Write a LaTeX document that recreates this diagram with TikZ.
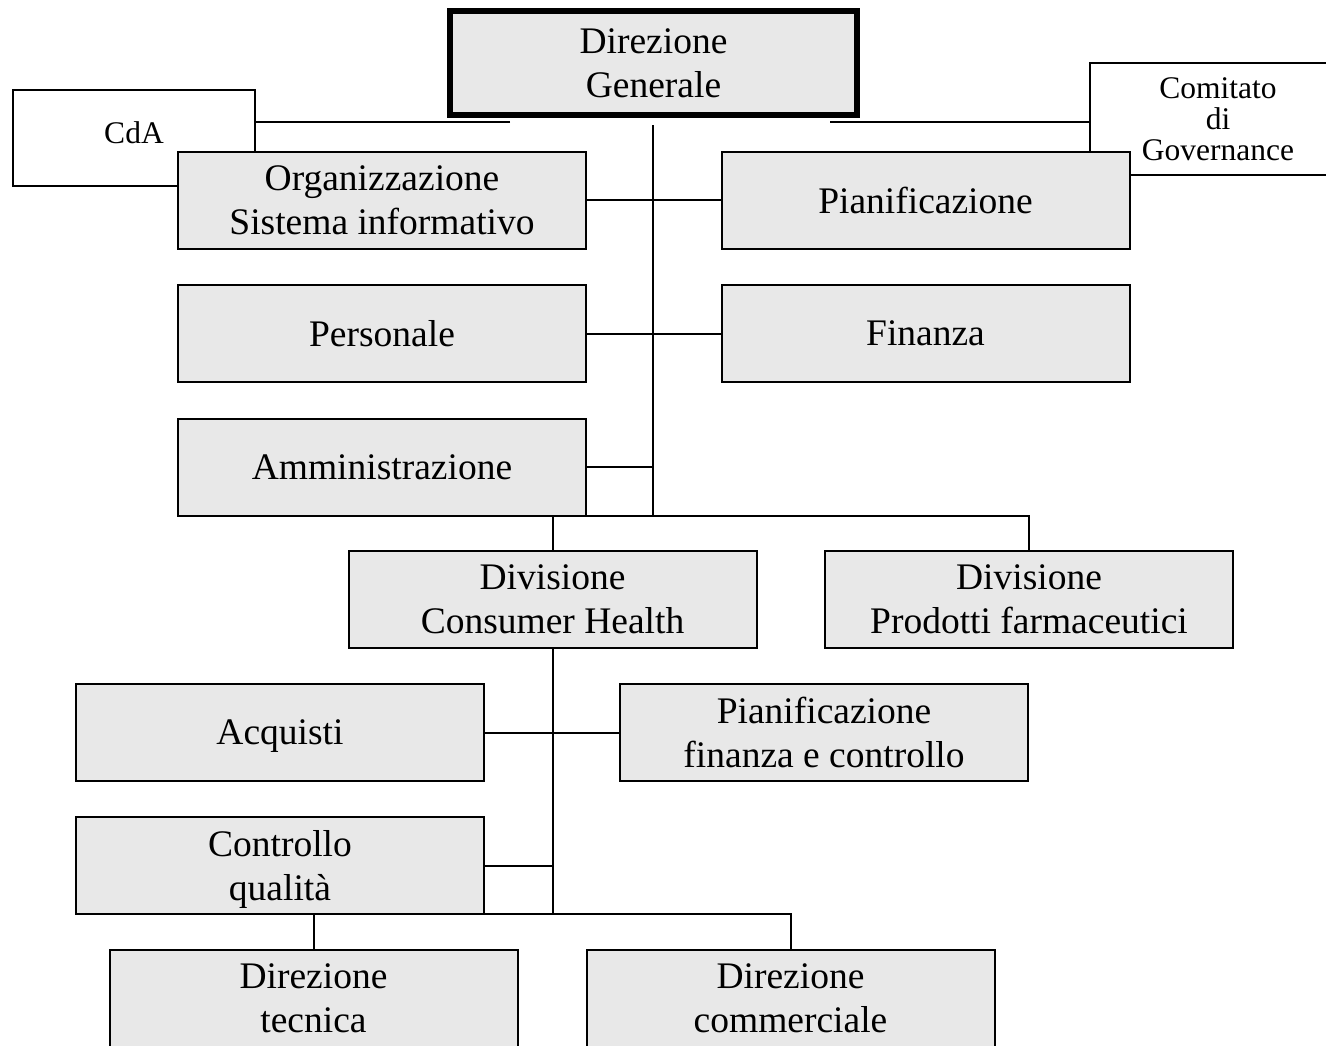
\documentclass[tikz,border=0pt]{standalone}
\usepackage{fontspec}
\setmainfont{Liberation Serif}
\definecolor{boxgray}{RGB}{232,232,232}
\begin{document}
\begin{tikzpicture}[x=1pt,y=-1pt,
  unit/.style={draw=black, line width=2pt, fill=boxgray, minimum width=408pt,
    minimum height=97pt, inner sep=0pt, align=center, text depth=-9pt,
    font=\fontsize{37.5}{44}\selectfont},
  side/.style={draw=black, line width=2pt, fill=white, inner sep=0pt,
    align=center, font=\fontsize{31.5}{31}\selectfont},
  link/.style={draw=black, line width=2pt, line join=miter}]
\useasboundingbox (0,0) rectangle (1326,1045);
\clip (0,0) rectangle (1326,1045);

% staff bodies beside the top
\node[side, minimum width=242pt, minimum height=96pt, text depth=10pt] (cda)
  at (134,138) {CdA};
\node[side, minimum width=256pt, minimum height=112pt] (gov) at (1218,119)
  {Comitato\\di\\Governance};

% head of the company
\node[unit, line width=6pt, minimum width=407pt, minimum height=104pt] (dg)
  at (653.5,63) {Direzione\\Generale};

% central staff functions
\node[unit] (org)  at (382,200)   {Organizzazione\\Sistema informativo};
\node[unit] (pian) at (925.5,200) {Pianificazione};
\node[unit] (pers) at (382,333.5) {Personale};
\node[unit] (fin)  at (925.5,333.5) {Finanza};
\node[unit] (amm)  at (382,467)   {Amministrazione};

% divisions
\node[unit] (divch) at (552.5,599.5) {Divisione\\Consumer Health};
\node[unit] (divpf) at (1029,599.5)  {Divisione\\Prodotti farmaceutici};

% inside Consumer Health
\node[unit] (acq) at (280,732.5) {Acquisti};
\node[unit] (pfc) at (824,732.5) {Pianificazione\\finanza e controllo};
\node[unit] (cq)  at (280,865.5) {Controllo\\qualità};
\node[unit] (dt)  at (313.5,998) {Direzione\\tecnica};
\node[unit] (dc)  at (790.5,998) {Direzione\\commerciale};

% connectors
\coordinate (cdaEnd) at (510,122);
\coordinate (govEnd) at (830,122);
\coordinate (trunkTop) at (653,125);
\coordinate (trunkBot) at (653,516);
\coordinate (chBot) at (552.5,914);

\draw[link] (cdaEnd) -- (cdaEnd -| cda.east);
\draw[link] (govEnd) -- (govEnd -| gov.west);
\draw[link] (trunkTop) -- (trunkBot);
\draw[link] (org.east) -- (pian.west);
\draw[link] (pers.east) -- (fin.west);
\draw[link] (amm.east) -- (amm.east -| trunkBot);
\draw[link] (divch.north) -- (divch.north |- trunkBot)
  -- (divpf.north |- trunkBot) -- (divpf.north);
\draw[link] (divch.south) -- (chBot);
\draw[link] (acq.east) -- (pfc.west);
\draw[link] (cq.east) -- (cq.east -| chBot);
\draw[link] (dt.north) -- (dt.north |- chBot)
  -- (dc.north |- chBot) -- (dc.north);
\end{tikzpicture}
\end{document}
